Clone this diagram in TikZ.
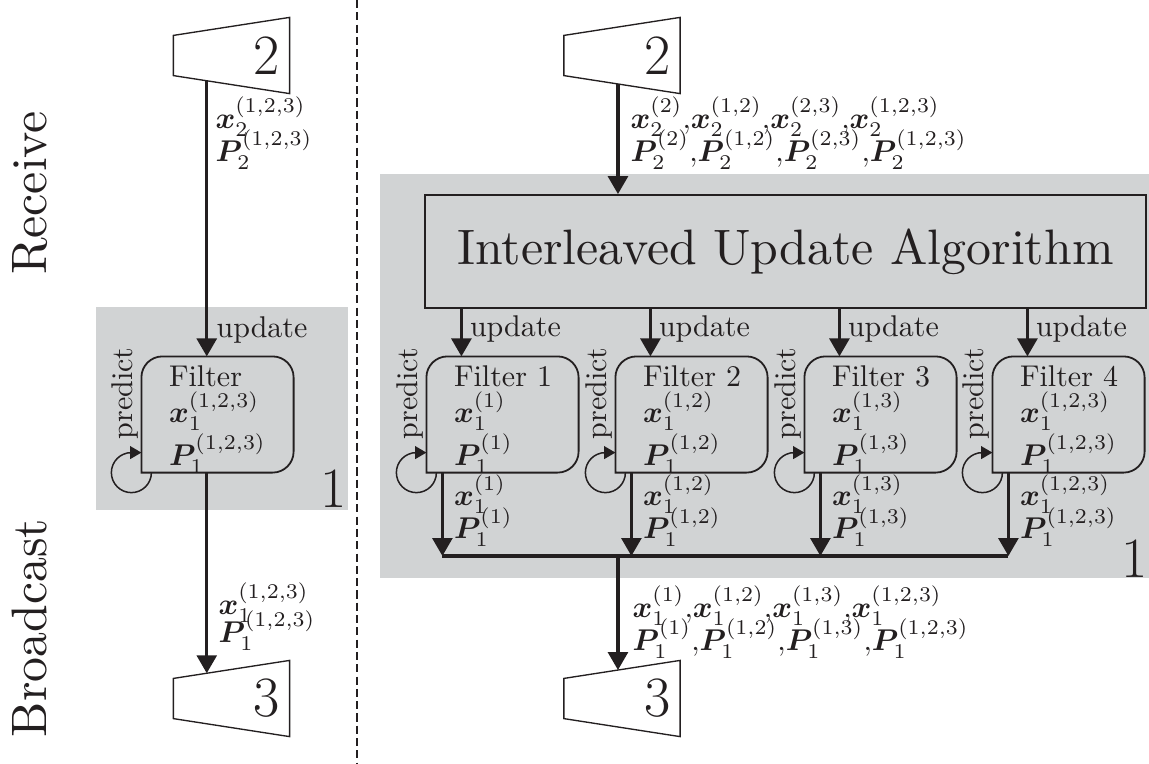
\documentclass[tikz,border=0pt]{standalone}
\usepackage{amsmath}
\usepackage{bm}
\usetikzlibrary{arrows.meta,calc}
\definecolor{ink}{RGB}{35,31,32}
\definecolor{bg}{RGB}{209,211,212}
\newcommand\filtrad{7pt}
\newcommand\vx[2]{\bm{x}_{#1}^{#2}}
\newcommand\vP[2]{\bm{P}_{#1}^{#2}}
\newcommand\bigtext[1]{\scalebox{1.66}{\fontsize{10}{12}\selectfont #1}}
\newcommand\filtshape[1]{%
  \draw[fline] (#1.south west) -- ([yshift=-\filtrad]#1.north west)
    arc[start angle=180,end angle=90,radius=\filtrad] -- ([xshift=-\filtrad]#1.north east)
    arc[start angle=90,end angle=0,radius=\filtrad] -- ([yshift=\filtrad]#1.south east)
    arc[start angle=0,end angle=-90,radius=\filtrad] -- cycle;}
\newcommand\trapshape[1]{%
  \draw[trapline] (#1.north east) -- (#1.south east) -- ([yshift=6pt]#1.south west)
    -- ([yshift=-6pt]#1.north west) -- cycle;}
\newcommand\predloop[1]{%
  \draw[loopar] ([xshift=3.33pt]#1.south west) arc[start angle=0,end angle=-270,radius=6.67pt]
    -- ([yshift=6.67pt]#1.south west);}
\tikzset{
  gbox/.style={fill=bg, draw=none, inner sep=0pt},
  trap/.style={inner xsep=3pt, inner ysep=0pt, minimum width=38.33pt, minimum height=25pt,
    text width=32.33pt, align=right, font=\fontsize{19}{23}\selectfont, text=ink},
  trapline/.style={draw=ink, line width=0.45pt},
  filt/.style={minimum width=50.33pt, minimum height=38.33pt, inner sep=0pt},
  fline/.style={draw=ink, line width=0.6pt},
  ftext/.style={anchor=north west, inner sep=0pt, align=left, font=\fontsize{10}{12}\selectfont, text=ink},
  lab/.style={anchor=base west, inner sep=0pt, font=\fontsize{10}{12}\selectfont, text=ink},
  arr/.style={draw=ink, line width=1.15pt, -{Triangle[length=6pt,width=6.6pt]}},
  bus/.style={draw=ink, line width=1.15pt},
  loopar/.style={draw=ink, line width=0.5pt, -{Triangle[length=3.8pt,width=4.3pt]}},
  pred/.style={rotate=90, inner sep=0pt, font=\fontsize{10}{12}\selectfont, text=ink},
  side/.style={rotate=90, anchor=south, inner sep=0pt, text=ink},
  bignum/.style={inner sep=0pt, anchor=base east, font=\fontsize{19}{23}\selectfont, text=ink},
  iua/.style={draw=ink, line width=0.6pt, minimum width=240.33pt, minimum height=37.67pt,
    inner sep=0pt, text=ink},
  dashline/.style={draw=ink, line width=0.4pt, dash pattern=on 2.7pt off 1.4pt},
}
\begin{document}
\begin{tikzpicture}[x=0.33333pt, y=0.33333pt]
\useasboundingbox (0,0) rectangle (1149,-763);

% side captions and separator
\node[side] (recv) at (48,-193) {\bigtext{Receive}};
\node[side] (bcast) at (48,-628) {\bigtext{Broadcast}};
\draw[dashline] (357,0) -- (357,-763);

% ---------------- left part ----------------
\node[gbox, minimum width=84pt, minimum height=67.67pt] (gbL) at (222,-408.5) {};
\node[bignum] (oneL) at (347,-507) {1};

\node[trap] (T2L) at (231.5,-55.5) {2};
\trapshape{T2L}
\node[trap] (T3L) at (231.5,-698.5) {3};
\trapshape{T3L}

\node[filt] (FL) at (217.5,-414.5) {};
\filtshape{FL}
\node[ftext] (FLt) at ([xshift=9pt,yshift=-3pt]FL.north west)
  {Filter\\ $\vx{1}{(1,2,3)}$\\ $\vP{1}{(1,2,3)}$};
\node[pred] (FLp) at ($(FL.west)+(-16,21)$) {predict};
\predloop{FL}

\coordinate (sL) at ($([yshift=6pt]T2L.south west)!0.287!(T2L.south east)$);
\coordinate (eL) at ($([yshift=-6pt]T3L.north west)!0.287!(T3L.north east)$);
\draw[arr] (sL) -- (sL |- FL.north);
\draw[arr] (sL |- FL.south) -- (eL);

\node[lab] (inLx) at (215,-128) {$\vx{2}{(1,2,3)}$};
\node[lab] (inLP) at (215,-161) {$\vP{2}{(1,2,3)}$};
\node[lab] (updL) at (216,-337) {update};
\node[lab] (outLx) at (218,-614) {$\vx{1}{(1,2,3)}$};
\node[lab] (outLP) at (218,-642) {$\vP{1}{(1,2,3)}$};

% ---------------- right part ----------------
\node[gbox, minimum width=256.33pt, minimum height=134.67pt] (gbR) at (764.5,-376) {};
\node[bignum] (oneR) at (1148,-577) {1};

\node[trap] (T2R) at (622,-55.5) {2};
\trapshape{T2R}
\node[trap] (T3R) at (622,-698.5) {3};
\trapshape{T3R}

\node[iua] (IUA) at (785.5,-251.5) {\bigtext{Interleaved Update Algorithm}};

\coordinate (sR) at ($([yshift=6pt]T2R.south west)!0.4652!(T2R.south east)$);
\draw[arr] (sR) -- (sR |- IUA.north);
\node[lab] (inRx) at (630,-128) {$\vx{2}{(2)}{,}\vx{2}{(1,2)}{,}\vx{2}{(2,3)}{,}\vx{2}{(1,2,3)}$};
\node[lab] (inRP) at (630,-161) {$\vP{2}{(2)}{,}\vP{2}{(1,2)}{,}\vP{2}{(2,3)}{,}\vP{2}{(1,2,3)}$};

\coordinate (busy) at (0,-556);

\foreach \i/\cx/\sup in {1/502.5/{(1)}, 2/691.5/{(1,2)}, 3/880.5/{(1,3)}, 4/1068.5/{(1,2,3)}}{
  \node[filt] (F\i) at (\cx,-414.5) {};
  \filtshape{F\i}
  \node[ftext] (F\i t) at ([xshift=9pt,yshift=-3pt]F\i.north west)
    {Filter \i\\ $\vx{1}{\sup}$\\ $\vP{1}{\sup}$};
  \node[pred] (F\i p) at ($(F\i.west)+(-16,21)$) {predict};
  \predloop{F\i}
  \coordinate (u\i) at ([xshift=11.67pt]F\i.north west);
  \draw[arr] (u\i |- IUA.south) -- (u\i);
  \node[lab] (upd\i) at ($(u\i)+(8,20)$) {update};
  \coordinate (o\i) at ([xshift=5.33pt]F\i.south west);
  \draw[arr] (o\i) -- (o\i |- busy);
  \node[lab] (ox\i) at ($(o\i)+(11,-33)$) {$\vx{1}{\sup}$};
  \node[lab] (oP\i) at ($(o\i)+(11,-66)$) {$\vP{1}{\sup}$};
}
\draw[bus] (o1 |- busy) -- (o4 |- busy);

\coordinate (eR) at ($([yshift=-6pt]T3R.north west)!0.4652!(T3R.north east)$);
\draw[arr] (eR |- busy) -- (eR);
\node[lab] (outRx) at (632,-617) {$\vx{1}{(1)}{,}\vx{1}{(1,2)}{,}\vx{1}{(1,3)}{,}\vx{1}{(1,2,3)}$};
\node[lab] (outRP) at (632,-650) {$\vP{1}{(1)}{,}\vP{1}{(1,2)}{,}\vP{1}{(1,3)}{,}\vP{1}{(1,2,3)}$};
\end{tikzpicture}
\end{document}
